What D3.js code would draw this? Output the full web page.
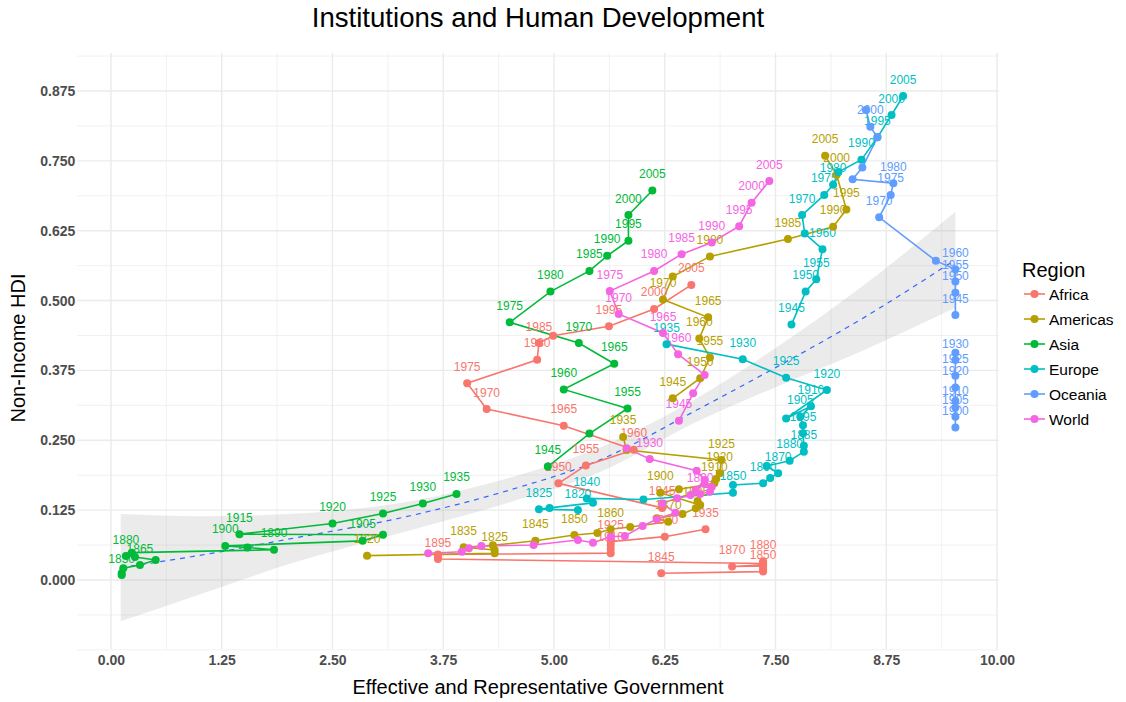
<!DOCTYPE html>
<html>
<head>
<meta charset="utf-8">
<script src="https://cdn.jsdelivr.net/npm/d3@7"></script>
<style>
  body { margin: 0; background: #fff; }
  svg { display: block; }
  text { font-family: "Liberation Sans", Arial, Helvetica, sans-serif; }
</style>
</head>
<body>
<svg id="chart" width="1126" height="702"></svg>
<script>
// Regions and their colours
const regions = ["Africa", "Americas", "Asia", "Europe", "Oceania", "World"];
const regionColors = ["#F8766D", "#B79F00", "#00BA38", "#00BFC4", "#619CFF", "#F564E3"];

// Each row: [year, effective and representative government, non-income HDI]
const africa = [
  [1845, 6.21, 0.012], [1850, 7.36, 0.015], [1855, 7.36, 0.018], [1860, 7.36, 0.0215],
  [1865, 7.36, 0.025], [1870, 7.01, 0.024], [1875, 7.36, 0.027], [1880, 7.36, 0.033],
  [1885, 7.36, 0.031], [1890, 7.36, 0.0295], [1895, 3.69, 0.0376], [1900, 3.69, 0.042],
  [1905, 3.69, 0.0456], [1910, 5.64, 0.048], [1915, 5.64, 0.0555], [1920, 5.64, 0.0626],
  [1925, 5.64, 0.0685], [1930, 6.25, 0.0775], [1935, 6.71, 0.0907], [1940, null, null],
  [1945, 6.22, 0.129], [1950, 5.05, 0.173], [1955, 5.36, 0.205], [1960, 5.90, 0.233],
  [1965, 5.11, 0.276], [1970, 4.24, 0.306], [1975, 4.02, 0.352], [1980, 4.81, 0.394],
  [1985, 4.83, 0.424], [1990, 4.99, 0.437], [1995, 5.62, 0.454], [2000, 6.13, 0.485],
  [2005, 6.55, 0.528]
];
const americas = [
  [1820, 2.89, 0.0435], [1825, 4.33, 0.0478], [1830, 4.33, 0.0537], [1835, 3.98, 0.0585],
  [1840, 4.31, 0.062], [1845, 4.79, 0.0703], [1850, 5.23, 0.0805], [1855, 5.49, 0.0841],
  [1860, 5.64, 0.0907], [1865, 5.86, 0.0948], [1870, 6.29, 0.1043], [1875, 6.16, 0.1104],
  [1880, 6.45, 0.1181], [1885, 6.60, 0.1283], [1890, 6.62, 0.1414], [1895, 6.65, 0.1342],
  [1900, 6.20, 0.1562], [1905, 6.41, 0.1623], [1910, 6.81, 0.173], [1915, 6.83, 0.1807],
  [1920, 6.87, 0.1909], [1925, 6.89, 0.2147], [1930, 5.82, 0.2326], [1935, 5.78, 0.256],
  [1940, null, null],
  [1945, 6.34, 0.325], [1950, 6.65, 0.361], [1955, 6.76, 0.398], [1960, 6.64, 0.432],
  [1965, 6.74, 0.470], [1970, 6.23, 0.502], [1975, 6.34, 0.543], [1980, 6.76, 0.579],
  [1985, 7.64, 0.610], [1990, 8.15, 0.632], [1995, 8.30, 0.663], [2000, 8.19, 0.725],
  [2005, 8.06, 0.759]
];
const asia = [
  [1850, 0.121, 0.0089], [1855, 0.121, 0.012], [1860, 0.139, 0.0209], [1865, 0.327, 0.0268],
  [1870, 0.505, 0.0358], [1875, 0.271, 0.0412], [1880, 0.169, 0.0429], [1885, 0.234, 0.0489],
  [1890, 1.84, 0.054], [1895, 1.54, 0.058], [1900, 1.29, 0.061], [1905, 2.84, 0.070],
  [1910, 3.07, 0.081], [1915, 1.45, 0.082], [1920, 2.50, 0.101], [1925, 3.07, 0.119],
  [1930, 3.52, 0.137], [1935, 3.90, 0.154], [1940, null, null],
  [1945, 4.93, 0.203], [1950, 5.40, 0.262], [1955, 5.83, 0.307], [1960, 5.11, 0.341],
  [1965, 5.68, 0.387], [1970, 5.28, 0.424], [1975, 4.50, 0.461], [1980, 4.96, 0.516],
  [1985, 5.40, 0.553], [1990, 5.60, 0.580], [1995, 5.84, 0.607], [2000, 5.84, 0.653],
  [2005, 6.11, 0.697]
];
const europe = [
  [1820, 5.27, 0.125], [1825, 4.83, 0.1265], [1830, 4.95, 0.129], [1835, 5.44, 0.138],
  [1840, 5.37, 0.146], [1845, 6.01, 0.144], [1850, 7.02, 0.156], [1855, 7.02, 0.170],
  [1860, 7.36, 0.173], [1865, 7.44, 0.1825], [1870, 7.53, 0.191], [1875, 7.40, 0.204],
  [1880, 7.66, 0.2135], [1885, 7.82, 0.2296], [1890, 7.82, 0.240], [1895, 7.81, 0.2625],
  [1900, 7.81, 0.277], [1905, 7.78, 0.292], [1910, 7.90, 0.311], [1915, 7.62, 0.289],
  [1920, 8.08, 0.340], [1925, 7.62, 0.362], [1930, 7.13, 0.395], [1935, 6.27, 0.422],
  [1940, null, null],
  [1945, 7.68, 0.457], [1950, 7.84, 0.516], [1955, 7.96, 0.538], [1960, 8.03, 0.592],
  [1965, 7.83, 0.620], [1970, 7.80, 0.653], [1975, 8.05, 0.689], [1980, 8.15, 0.707],
  [1985, 8.21, 0.730], [1990, 8.47, 0.752], [1995, 8.65, 0.792], [2000, 8.81, 0.832],
  [2005, 8.94, 0.866]
];
const oceania = [
  [1900, 9.53, 0.2729], [1905, 9.53, 0.292], [1910, 9.53, 0.3087], [1915, 9.53, 0.3203],
  [1920, 9.53, 0.3445], [1925, 9.53, 0.3654], [1930, 9.53, 0.3935], [1935, 9.53, 0.4067],
  [1940, null, null],
  [1945, 9.53, 0.474], [1950, 9.53, 0.514], [1955, 9.53, 0.534], [1960, 9.53, 0.556],
  [1965, 9.31, 0.571], [1970, 8.67, 0.649], [1975, 8.80, 0.689], [1980, 8.83, 0.710],
  [1985, 8.37, 0.717], [1990, 8.48, 0.738], [1995, 8.65, 0.792], [2000, 8.57, 0.811],
  [2005, 8.52, 0.841]
];
const world = [
  [1820, 3.58, 0.0478], [1825, 3.96, 0.0506], [1830, 4.04, 0.0567], [1835, 4.18, 0.0608],
  [1840, 4.77, 0.0626], [1845, 5.27, 0.0716], [1850, 5.44, 0.0667], [1855, 5.64, 0.0775],
  [1860, 5.80, 0.0787], [1865, 6.00, 0.0966], [1870, 6.16, 0.1086], [1875, 6.37, 0.1204],
  [1880, 6.22, 0.1372], [1885, 6.39, 0.1462], [1890, 6.65, 0.1539], [1895, 6.76, 0.158],
  [1900, 6.78, 0.1664], [1905, 6.70, 0.1718], [1910, 6.60, 0.161], [1915, 6.54, 0.1521],
  [1920, 6.70, 0.1789], [1925, 6.61, 0.1956], [1930, 6.08, 0.2165], [1935, 5.82, 0.2357],
  [1940, null, null],
  [1945, 6.41, 0.285], [1950, 6.57, 0.334], [1955, 6.70, 0.367], [1960, 6.40, 0.404],
  [1965, 6.23, 0.442], [1970, 5.73, 0.476], [1975, 5.63, 0.517], [1980, 6.13, 0.553],
  [1985, 6.44, 0.583], [1990, 6.78, 0.604], [1995, 7.09, 0.633], [2000, 7.23, 0.675],
  [2005, 7.43, 0.714]
];
const seriesByRegion = [africa, americas, asia, europe, oceania, world];

// Local regression fit with its confidence band
const smoothGov  = [0.11, 1.00, 2.00, 3.38, 4.50, 5.52, 6.61, 7.50, 8.45, 9.53];
const smoothFit  = [0.022, 0.044, 0.073, 0.115, 0.161, 0.215, 0.304, 0.380, 0.465, 0.573];
const smoothLow  = [-0.074, -0.026, 0.028, 0.089, 0.139, 0.193, 0.283, 0.345, 0.408, 0.487];
const smoothHigh = [0.118, 0.114, 0.118, 0.141, 0.183, 0.237, 0.325, 0.415, 0.522, 0.659];

// Axis ticks
const xTicks = [0, 1.25, 2.5, 3.75, 5, 6.25, 7.5, 8.75, 10];
const yTicks = [0, 0.125, 0.25, 0.375, 0.5, 0.625, 0.75, 0.875];
const xMinor = [0.625, 1.875, 3.125, 4.375, 5.625, 6.875, 8.125, 9.375];
const yMinor = [-0.125, -0.0625, 0.0625, 0.1875, 0.3125, 0.4375, 0.5625, 0.6875, 0.8125, 0.9375];

const labelNudge = 0.03;

const svg = d3.select("#chart");
const x = d3.scaleLinear().domain([-0.38, 10.02]).range([77.3, 998.8]);
const y = d3.scaleLinear().domain([-0.1235, 0.9435]).range([649, 52.7]);
const color = d3.scaleOrdinal().domain(regions).range(regionColors);
const [px0, px1] = x.range();
const [py0, py1] = y.range();

// Grid
const grid = svg.append("g");
grid.selectAll(".ymin").data(yMinor).join("line")
  .attr("x1", px0).attr("x2", px1).attr("y1", d => y(d)).attr("y2", d => y(d))
  .attr("stroke", "#ebebeb").attr("stroke-width", 0.7);
grid.selectAll(".xmin").data(xMinor).join("line")
  .attr("y1", py0).attr("y2", py1).attr("x1", d => x(d)).attr("x2", d => x(d))
  .attr("stroke", "#ebebeb").attr("stroke-width", 0.7);
grid.selectAll(".ymaj").data(yTicks).join("line")
  .attr("x1", px0).attr("x2", px1).attr("y1", d => y(d)).attr("y2", d => y(d))
  .attr("stroke", "#ebebeb").attr("stroke-width", 1.4);
grid.selectAll(".xmaj").data(xTicks).join("line")
  .attr("y1", py0).attr("y2", py1).attr("x1", d => x(d)).attr("x2", d => x(d))
  .attr("stroke", "#ebebeb").attr("stroke-width", 1.4);

// Axes (labels only, no domain line or tick marks)
const xAxis = svg.append("g").attr("transform", `translate(0,${py0})`)
  .call(d3.axisBottom(x).tickValues(xTicks).tickFormat(d3.format(".2f")).tickSize(0).tickPadding(6));
const yAxis = svg.append("g").attr("transform", `translate(${px0},0)`)
  .call(d3.axisLeft(y).tickValues(yTicks).tickFormat(d3.format(".3f")).tickSize(0).tickPadding(2));
[xAxis, yAxis].forEach(g => {
  g.select(".domain").remove();
  g.selectAll("text").attr("font-family", '"Liberation Sans", Arial, sans-serif')
    .attr("font-size", 14).attr("font-weight", "bold").attr("fill", "#4d4d4d");
});

// Smooth band and fitted line
const smoothRows = smoothGov.map((g, i) => ({ g, fit: smoothFit[i], lo: smoothLow[i], hi: smoothHigh[i] }));
svg.append("path").datum(smoothRows)
  .attr("d", d3.area().curve(d3.curveMonotoneX).x(d => x(d.g)).y0(d => y(d.lo)).y1(d => y(d.hi)))
  .attr("fill", "#999999").attr("fill-opacity", 0.2);
svg.append("path").datum(smoothRows)
  .attr("d", d3.line().curve(d3.curveMonotoneX).x(d => x(d.g)).y(d => y(d.fit)))
  .attr("fill", "none").attr("stroke", "#3366FF").attr("stroke-width", 1.2)
  .attr("stroke-dasharray", "5,5");

// Paths per region (gaps where a year has no data)
const line = d3.line().defined(d => d[1] != null).x(d => x(d[1])).y(d => y(d[2]));
const pathLayer = svg.append("g");
regions.forEach((r, i) => {
  pathLayer.append("path").datum(seriesByRegion[i]).attr("d", line)
    .attr("fill", "none").attr("stroke", color(r)).attr("stroke-width", 1.6);
});

// Year labels, skipping any that would overlap a label already drawn
const labelLayer = svg.append("g");
const placed = [];
const fs = 12, boxH = fs * 0.72;
regions.forEach((r, i) => {
  seriesByRegion[i].filter(d => d[1] != null).forEach(d => {
    const cx = x(d[1]), cy = y(d[2] + labelNudge);
    const t = labelLayer.append("text").attr("x", cx).attr("y", cy + boxH / 2)
      .attr("text-anchor", "middle").attr("font-size", fs).attr("fill", color(r)).text(d[0]);
    const w = t.node().getComputedTextLength();
    const box = { x0: cx - w / 2, x1: cx + w / 2, y0: cy - boxH / 2, y1: cy + boxH / 2 };
    const hit = placed.some(b => box.x0 < b.x1 && box.x1 > b.x0 && box.y0 < b.y1 && box.y1 > b.y0);
    if (hit) t.remove(); else placed.push(box);
  });
});

// Points on top
const pointLayer = svg.append("g");
regions.forEach((r, i) => {
  pointLayer.append("g").selectAll("circle")
    .data(seriesByRegion[i].filter(d => d[1] != null)).join("circle")
    .attr("cx", d => x(d[1])).attr("cy", d => y(d[2])).attr("r", 4)
    .attr("fill", color(r));
});

// Titles
svg.append("text").attr("x", 538).attr("y", 27).attr("text-anchor", "middle")
  .attr("font-size", 27.6).attr("fill", "#000").text("Institutions and Human Development");
svg.append("text").attr("x", 538).attr("y", 694).attr("text-anchor", "middle")
  .attr("font-size", 20).attr("fill", "#000").text("Effective and Representative Government");
svg.append("text").attr("transform", "translate(25,348) rotate(-90)").attr("text-anchor", "middle")
  .attr("font-size", 20).attr("fill", "#000").text("Non-Income HDI");

// Legend
const legend = svg.append("g");
legend.append("text").attr("x", 1022).attr("y", 277).attr("font-size", 20).attr("fill", "#000").text("Region");
regions.forEach((r, i) => {
  const ly = 294 + i * 25;
  legend.append("line").attr("x1", 1024).attr("x2", 1045).attr("y1", ly).attr("y2", ly)
    .attr("stroke", color(r)).attr("stroke-width", 1.6);
  legend.append("circle").attr("cx", 1034.5).attr("cy", ly).attr("r", 4).attr("fill", color(r));
  legend.append("text").attr("x", 1049).attr("y", ly + 5.5).attr("font-size", 15.5).attr("fill", "#000").text(r);
});
</script>
</body>
</html>
